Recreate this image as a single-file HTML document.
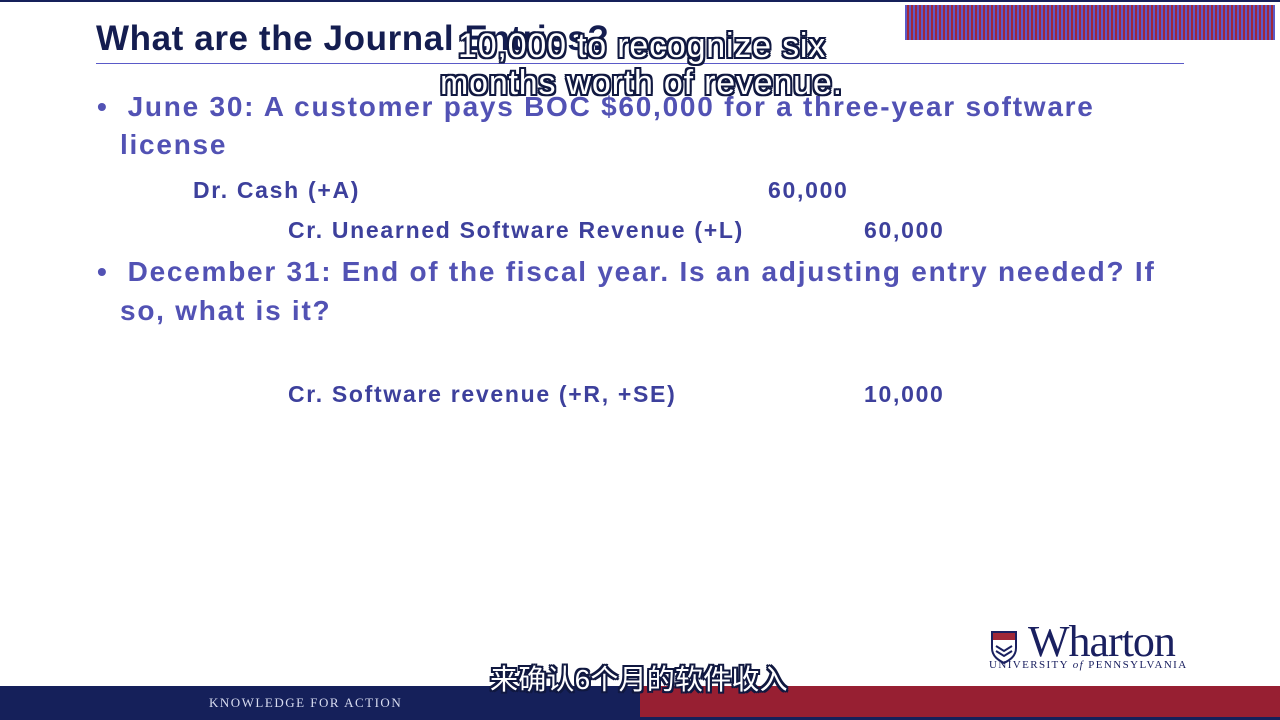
<!DOCTYPE html>
<html><head><meta charset="utf-8"><style>
body{margin:0;width:1280px;height:720px;overflow:hidden;background:#fff;font-family:"Liberation Sans","Noto Sans CJK SC",sans-serif;position:relative}
div{position:absolute;white-space:nowrap}
.t{font-weight:bold}
.b{color:#5252b4;font-size:28px;font-weight:bold;letter-spacing:1.75px}
.j{color:#3d409c;font-size:23px;font-weight:bold;letter-spacing:1.7px}
.sub{color:#fff;font-size:34px;text-shadow:-2px -2px 0 #101840,2px -2px 0 #101840,-2px 2px 0 #101840,2px 2px 0 #101840,0 2px 0 #101840,0 -2px 0 #101840,2px 0 0 #101840,-2px 0 0 #101840;letter-spacing:0.8px}
</style></head><body>
<div style="left:0;top:0;width:1280px;height:2px;background:#15205a"></div>
<div style="left:905px;top:5px;width:370px;height:35px;background:repeating-linear-gradient(90deg,#5a5ac8 0 2px,#a02838 2px 4px)"></div>
<div class="t" style="left:96px;top:19px;font-size:35px;color:#141d50;letter-spacing:0.6px">What are the Journal Entries?</div>
<div style="left:96px;top:63px;width:1088px;height:1px;background:#5a5ac8"></div>
<div class="b" style="left:97px;top:91px">•&nbsp;&nbsp;June 30: A customer pays BOC $60,000 for a three-year software</div>
<div class="b" style="left:120px;top:129px">license</div>
<div class="j" style="left:193px;top:177px">Dr. Cash (+A)</div>
<div class="j" style="left:768px;top:177px">60,000</div>
<div class="j" style="left:288px;top:217px">Cr. Unearned Software Revenue (+L)</div>
<div class="j" style="left:864px;top:217px">60,000</div>
<div class="b" style="left:97px;top:256px">•&nbsp;&nbsp;December 31: End of the fiscal year. Is an adjusting entry needed? If</div>
<div class="b" style="left:120px;top:295px">so, what is it?</div>
<div class="j" style="left:288px;top:381px">Cr. Software revenue (+R, +SE)</div>
<div class="j" style="left:864px;top:381px">10,000</div>
<div class="sub" style="left:458px;top:27px">10,000 to recognize six</div>
<div class="sub" style="left:440px;top:64px">months worth of revenue.</div>
<div style="left:988px;top:628px;width:200px;height:45px">
 <svg width="32" height="34" style="position:absolute;left:2px;top:2px"><path d="M2 2h24v16c0 8-6 12-12 15C8 30 2 26 2 18z" fill="#fff" stroke="#1a2060" stroke-width="2"/><rect x="3" y="3" width="22" height="7" fill="#a02838"/><path d="M6 16l8 5 8-5M6 21l8 5 8-5" stroke="#1a2060" stroke-width="2" fill="none"/></svg>
 <div style="left:40px;top:-12px;font-family:'Liberation Serif',serif;font-size:44px;color:#1a2060;letter-spacing:-1px">Wharton</div>
 <div style="left:1px;top:31px;font-family:'Liberation Serif',serif;font-size:11px;color:#1a2060;letter-spacing:1.4px">UNIVERSITY <i>of</i> PENNSYLVANIA</div>
</div>
<div style="left:0;top:686px;width:640px;height:34px;background:#15205a"></div>
<div style="left:640px;top:686px;width:640px;height:31px;background:#971f32"></div>
<div style="left:640px;top:717px;width:640px;height:3px;background:#15205a"></div>
<div style="left:209px;top:695px;font-family:'Liberation Serif',serif;font-size:13px;color:#d8dcf0;letter-spacing:1.5px">KNOWLEDGE FOR ACTION</div>
<div class="sub" style="left:490px;top:658px;font-size:28px;font-family:'Liberation Sans','Noto Sans CJK SC',sans-serif;letter-spacing:0.2px">来确认6个月的软件收入</div>
</body></html>
